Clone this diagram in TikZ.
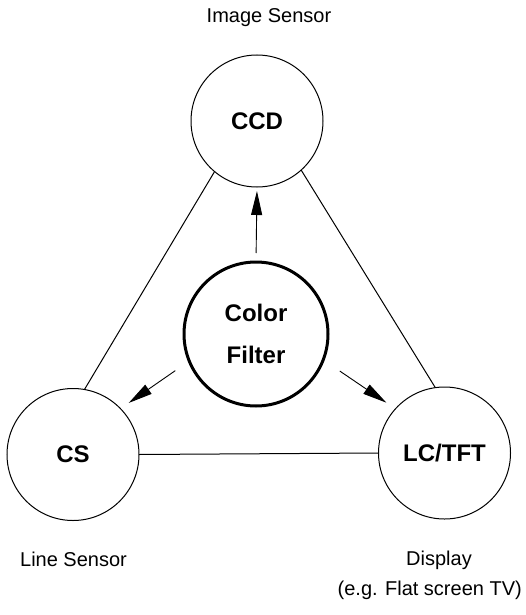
\documentclass[tikz,border=0pt]{standalone}
\usepackage{fontspec}
\setmainfont{Liberation Sans}
\usetikzlibrary{arrows.meta}
\begin{document}
\begin{tikzpicture}[x=1pt,y=-1pt,
  unit/.style={circle,draw,line width=1pt,inner sep=0pt,outer sep=0pt,minimum size=132pt,
    font=\fontsize{24}{28}\selectfont\bfseries},
  hub/.style={circle,draw,line width=3pt,inner sep=0pt,outer sep=0pt,minimum size=144pt,
    align=center,font=\fontsize{24}{42}\selectfont\bfseries},
  lbl/.style={font=\fontsize{20}{24}\selectfont,inner sep=0pt},
  edge/.style={line width=1pt},
  feed/.style={line width=0.9pt,-{Triangle[length=24pt,width=11pt]}}]
\useasboundingbox (0,0) rectangle (526,615);
\node[unit] (ccd) at (257,121) {CCD};
\node[unit] (cs) at (73,454.5) {CS};
\node[unit] (lc) at (444.5,453) {LC/TFT};
\node[hub] (cf) at (256,334) {Color\\Filter};
\node[lbl] (ccdl) at (269,18) {Image Sensor};
\node[lbl] (csl) at (73.5,559) {Line Sensor};
\node[lbl] (lcl) at (439,560) {Display};
\node[lbl,anchor=east] (lcl2) at (522,590) {(e.g. Flat screen TV)};
\draw[edge] (ccd.230) -- (cs.80);
\draw[edge] (ccd.312) -- (lc.98);
\draw[edge] (cs.east) -- (lc.west);
\draw[feed,shorten <=9pt,shorten >=4pt] (cf.north) -- (ccd.south);
\draw[feed,shorten <=17pt,shorten >=10pt] (cf.202) -- (cs.44);
\draw[feed,shorten <=20pt,shorten >=11pt] (cf.339) -- (lc.138);
\end{tikzpicture}
\end{document}
